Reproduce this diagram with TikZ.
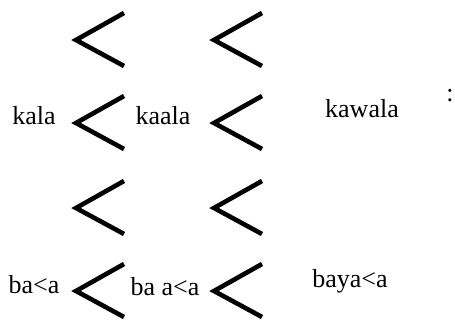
\documentclass[tikz,border=0pt]{standalone}
\usepackage{fontspec}
\setmainfont{Liberation Serif}
\usepackage{tikz}
\usetikzlibrary{positioning}

\begin{document}
\begin{tikzpicture}[x=0.5pt, y=-0.5pt,
  chev/.style={line width=2.3pt, line join=miter},
  word/.style={anchor=base, inner sep=0pt, font=\fontsize{13}{15}\selectfont}]
\useasboundingbox (0,0) rectangle (455,320);
% Chevrons (tip x / tip y)
\foreach \x in {76,214}{
  \foreach \y in {40,123,208,291}{
    \draw[chev] (\x+48,\y-27) -- (\x,\y) -- (\x+48,\y+26);
  }
}
% Words, first line
\node[word] (kala)   at (34,125)  {kala};
\node[word] (kaala)  at (163,125) {kaala};
\node[word] (kawala) at (362,118) {kawala};
\node[word] (colon)  at (450,102) {:};
% Words, second line
\node[word] (bala)   at (34,293)  {ba<a};
\node[word] (baala)  at (165,295) {ba a<a};
\node[word] (bayala) at (350,287) {baya<a};
\end{tikzpicture}
\end{document}
